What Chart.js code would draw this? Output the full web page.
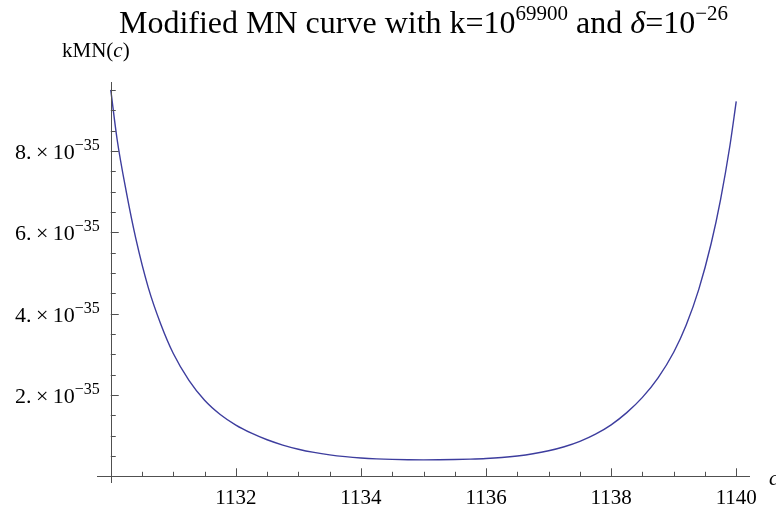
<!DOCTYPE html>
<html>
<head>
<meta charset="utf-8">
<title>Modified MN curve</title>
<script src="https://cdn.jsdelivr.net/npm/chart.js@4.4.1/dist/chart.umd.min.js"></script>
<style>
  html, body { margin: 0; padding: 0; background: #ffffff; }
  #wrap { width: 776px; height: 512px; }
</style>
</head>
<body>
<div id="wrap"><canvas id="plot" width="776" height="512"></canvas></div>
<script>
// Sampled curve: c values and kMN(c)
const cValues = [
  1130.0, 1130.1, 1130.25, 1130.4, 1130.6, 1130.8, 1131.0, 1131.25, 1131.5, 1131.75,
  1132.0, 1132.25, 1132.5, 1132.75, 1133.0, 1133.25, 1133.5, 1133.75, 1134.0, 1134.25,
  1134.5, 1134.75, 1135.0, 1135.25, 1135.5, 1135.75, 1136.0, 1136.25, 1136.5, 1136.75,
  1137.0, 1137.25, 1137.5, 1137.75, 1138.0, 1138.25, 1138.5, 1138.75, 1139.0, 1139.2,
  1139.4, 1139.6, 1139.75, 1139.9, 1140.0
];
const kmnValues = [
  9.50e-35, 8.30e-35, 6.98e-35, 5.85e-35, 4.64e-35, 3.74e-35, 3.02e-35, 2.36e-35, 1.87e-35, 1.52e-35,
  1.26e-35, 1.06e-35, 0.898e-35, 0.768e-35, 0.666e-35, 0.587e-35, 0.527e-35, 0.483e-35, 0.451e-35, 0.429e-35,
  0.415e-35, 0.407e-35, 0.404e-35, 0.406e-35, 0.411e-35, 0.421e-35, 0.436e-35, 0.461e-35, 0.499e-35, 0.553e-35,
  0.627e-35, 0.726e-35, 0.859e-35, 1.036e-35, 1.266e-35, 1.565e-35, 1.94e-35, 2.42e-35, 3.05e-35, 3.72e-35,
  4.59e-35, 5.73e-35, 6.81e-35, 8.14e-35, 9.22e-35
];

// Axis ticks
const xMajorTicks = [1132, 1134, 1136, 1138, 1140];
const xMinorTicks = [1130.5, 1131, 1131.5, 1132.5, 1133, 1133.5, 1134.5, 1135, 1135.5,
                     1136.5, 1137, 1137.5, 1138.5, 1139, 1139.5];
const yMajorTicks = [2e-35, 4e-35, 6e-35, 8e-35];
const yMajorMantissas = ['2.', '4.', '6.', '8.'];
const yTickExponent = '\u221235';
const yMinorTicks = [0.5e-35, 1e-35, 1.5e-35, 2.5e-35, 3e-35, 3.5e-35, 4.5e-35, 5e-35, 5.5e-35,
                     6.5e-35, 7e-35, 7.5e-35, 8.5e-35, 9e-35, 9.5e-35];

const SERIF = '"Liberation Serif", "Times New Roman", serif';
const AXIS_COLOR = '#505050';

function runsWidth(ctx, runs) {
  let w = 0;
  for (const r of runs) { ctx.font = r.font; w += ctx.measureText(r.text).width; }
  return w;
}
function drawRuns(ctx, runs, x, y, align) {
  const w = runsWidth(ctx, runs);
  let cx = align === 'center' ? x - w / 2 : (align === 'right' ? x - w : x);
  ctx.textAlign = 'left';
  ctx.textBaseline = 'alphabetic';
  for (const r of runs) {
    ctx.font = r.font;
    ctx.fillText(r.text, cx, y - (r.rise || 0));
    cx += ctx.measureText(r.text).width;
  }
}

const mathAxes = {
  id: 'mathAxes',
  afterDatasetsDraw(chart) {
    const ctx = chart.ctx;
    const xs = chart.scales.x, ys = chart.scales.y;
    const area = chart.chartArea;
    const y0 = ys.getPixelForValue(0);
    const x0 = xs.getPixelForValue(1130);
    ctx.save();
    ctx.strokeStyle = AXIS_COLOR;
    ctx.lineWidth = 1;
    // axis lines
    ctx.beginPath();
    ctx.moveTo(area.left, Math.round(y0) + 0.5);
    ctx.lineTo(area.right, Math.round(y0) + 0.5);
    ctx.moveTo(Math.round(x0) + 0.5, area.bottom);
    ctx.lineTo(Math.round(x0) + 0.5, area.top);
    ctx.stroke();
    // x ticks
    ctx.beginPath();
    for (const v of xMajorTicks) {
      const p = Math.round(xs.getPixelForValue(v)) + 0.5;
      ctx.moveTo(p, y0); ctx.lineTo(p, y0 - 8);
    }
    for (const v of xMinorTicks) {
      const p = Math.round(xs.getPixelForValue(v)) + 0.5;
      ctx.moveTo(p, y0); ctx.lineTo(p, y0 - 4.5);
    }
    // y ticks
    for (const v of yMajorTicks) {
      const p = Math.round(ys.getPixelForValue(v)) + 0.5;
      ctx.moveTo(x0, p); ctx.lineTo(x0 + 8, p);
    }
    for (const v of yMinorTicks) {
      const p = Math.round(ys.getPixelForValue(v)) + 0.5;
      ctx.moveTo(x0, p); ctx.lineTo(x0 + 5, p);
    }
    ctx.stroke();

    ctx.fillStyle = '#000000';
    // x tick labels
    ctx.font = '21px ' + SERIF;
    ctx.textAlign = 'center';
    ctx.textBaseline = 'alphabetic';
    for (const v of xMajorTicks) {
      ctx.fillText(String(v), xs.getPixelForValue(v), y0 + 28);
    }
    // y tick labels
    yMajorTicks.forEach((v, i) => {
      const p = ys.getPixelForValue(v);
      drawRuns(ctx, [
        { text: yMajorMantissas[i] + '\u2009\u00d7\u200910', font: '22px ' + SERIF },
        { text: yTickExponent, font: '16px ' + SERIF, rise: 9 }
      ], x0 - 11, p + 8, 'right');
    });
    // axis labels
    drawRuns(ctx, [
      { text: 'kMN(', font: '21px ' + SERIF },
      { text: 'c', font: 'italic 21px ' + SERIF },
      { text: ')', font: '21px ' + SERIF }
    ], 62, 57, 'left');
    drawRuns(ctx, [{ text: 'c', font: 'italic 21px ' + SERIF }], 769, y0 + 9, 'left');

    // title
    drawRuns(ctx, [
      { text: 'Modified MN curve with k=10', font: '32px ' + SERIF },
      { text: '69900', font: '21px ' + SERIF, rise: 13 },
      { text: ' and ', font: '32px ' + SERIF },
      { text: '\u03b4', font: 'italic 32px ' + SERIF },
      { text: '=10', font: '32px ' + SERIF },
      { text: '\u221226', font: '21px ' + SERIF, rise: 13 }
    ], (area.left + area.right) / 2, 33, 'center');
    ctx.restore();
  }
};

new Chart(document.getElementById('plot'), {
  type: 'line',
  data: {
    datasets: [{
      data: cValues.map((c, i) => ({ x: c, y: kmnValues[i] })),
      borderColor: '#3d3d9e',
      borderWidth: 1.4,
      pointRadius: 0,
      fill: false,
      cubicInterpolationMode: 'monotone'
    }]
  },
  options: {
    responsive: false,
    animation: false,
    devicePixelRatio: 1,
    layout: { padding: { left: 97, right: 26, top: 82, bottom: 29 } },
    plugins: { legend: { display: false }, tooltip: { enabled: false }, title: { display: false } },
    scales: {
      x: {
        type: 'linear', display: false, min: 1129.78, max: 1140.22,
        afterBuildTicks: s => { s.ticks = xMajorTicks.map(v => ({ value: v })); }
      },
      y: {
        type: 'linear', display: false, min: -0.165e-35, max: 9.695e-35,
        afterBuildTicks: s => { s.ticks = yMajorTicks.map(v => ({ value: v })); }
      }
    }
  },
  plugins: [mathAxes]
});
</script>
</body>
</html>
